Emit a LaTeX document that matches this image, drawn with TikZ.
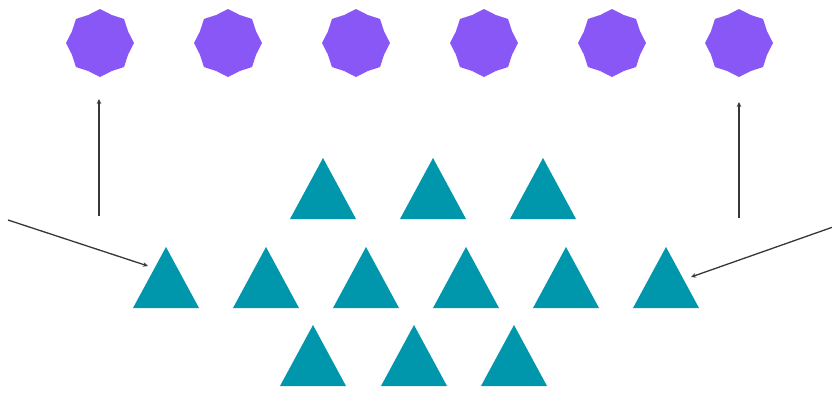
\documentclass[tikz,border=0pt]{standalone}
\usetikzlibrary{shapes.geometric,arrows.meta,calc}
\definecolor{tealA}{RGB}{0,150,172}
\definecolor{purpA}{RGB}{137,87,246}
\definecolor{arrA}{RGB}{55,55,55}
\begin{document}
\begin{tikzpicture}[x=1pt,y=-1pt,
 tri/.style={isosceles triangle, isosceles triangle stretches, shape border rotate=90,
   minimum width=66pt, minimum height=61pt, fill=tealA, inner sep=0pt, outer sep=0pt, anchor=apex, draw=none},
 oct/.style={star, star points=8, star point ratio=1.12, minimum size=68pt, fill=purpA, inner sep=0pt, outer sep=0pt, draw=none},
 conn/.style={draw=arrA, line width=1.3pt, -{Stealth[length=5pt,width=4.5pt]}}]
\fill[white] (0,0) rectangle (832,392);
\useasboundingbox (0,0) rectangle (832,392);
% stars
\foreach \i/\x in {1/100,2/228,3/356,4/484,5/612,6/739}
  \node[oct] (o\i) at (\x,43) {};
% triangles top row
\foreach \i/\x in {1/323,2/433,3/543}
  \node[tri] (t1\i) at (\x,158) {};
% middle row
\foreach \i/\x in {1/166,2/266,3/366,4/466,5/566,6/666}
  \node[tri] (t2\i) at (\x,247) {};
% bottom row
\foreach \i/\x in {1/313,2/414,3/514}
  \node[tri] (t3\i) at (\x,325) {};
% connectors
\coordinate (a1) at (99,216);
\coordinate (a2) at (739,218);
\coordinate (l0) at (8,220);
\coordinate (r0) at (833,227);
\draw[conn] (a1) -- ([xshift=-1pt,yshift=-22pt]o1.south);
\draw[conn] (a2) -- ([yshift=-25pt]o6.south);
\draw[conn] (l0) -- ([xshift=-18pt,yshift=-19pt]t21.apex);
\draw[conn] (r0) -- ([xshift=25pt,yshift=-30pt]t26.apex);
\end{tikzpicture}
\end{document}
